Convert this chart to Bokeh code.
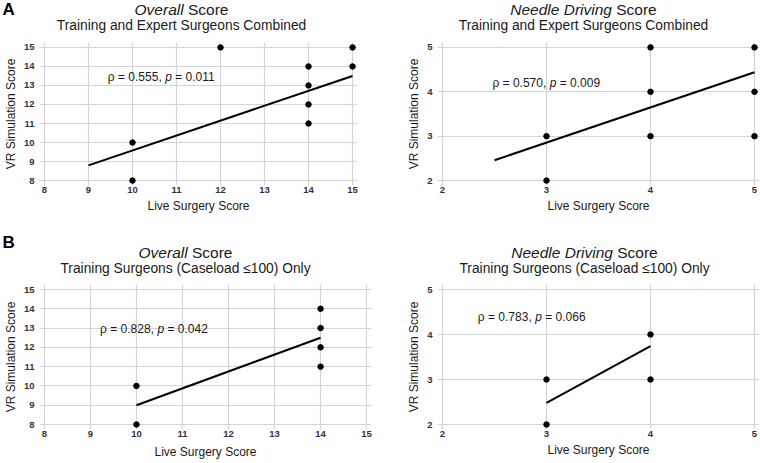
from bokeh.plotting import figure
from bokeh.models import Label, FixedTicker, Range1d
from bokeh.layouts import column, row
from bokeh.core.properties import value
from bokeh.embed import file_html
from bokeh.resources import INLINE

# ---------------- data ----------------
# Panel A – Overall score, training + expert surgeons combined
a_overall_live = [10, 10, 12, 14, 14, 14, 14, 15, 15]
a_overall_vr = [8, 10, 15, 11, 12, 13, 14, 14, 15]
a_overall_fit_x = [9, 15]
a_overall_fit_y = [8.8, 13.5]

# Panel A – Needle driving score, combined
a_needle_live = [3, 3, 4, 4, 4, 5, 5, 5]
a_needle_vr = [2, 3, 3, 4, 5, 3, 4, 5]
a_needle_fit_x = [2.5, 5]
a_needle_fit_y = [2.46, 4.44]

# Panel B – Overall score, training surgeons only
b_overall_live = [10, 10, 14, 14, 14, 14]
b_overall_vr = [8, 10, 11, 12, 13, 14]
b_overall_fit_x = [10, 14]
b_overall_fit_y = [9.0, 12.5]

# Panel B – Needle driving score, training surgeons only
b_needle_live = [3, 3, 4, 4]
b_needle_vr = [2, 3, 3, 4]
b_needle_fit_x = [3, 4]
b_needle_fit_y = [2.48, 3.74]

overall_ticks = [8, 9, 10, 11, 12, 13, 14, 15]
needle_ticks = [2, 3, 4, 5]

stats = {
    "a_overall": ("0.555", "0.011"),
    "a_needle": ("0.570", "0.009"),
    "b_overall": ("0.828", "0.042"),
    "b_needle": ("0.783", "0.066"),
}

title_italic = {"overall": "Overall", "needle": "Needle Driving"}
title_normal = "Score"
sub_a = "Training and Expert Surgeons Combined"
sub_b = "Training Surgeons (Caseload \u2264100) Only"

FONT = "Liberation Sans"
TXT = "#1a1a1a"

# approximate Arial advance widths (per 1000 em) for offsetting mixed-style text
W = {" ": 278, "=": 584, ".": 278, ",": 278, "p": 556, "\u03c1": 578,
     "O": 778, "v": 500, "e": 556, "r": 333, "a": 556, "l": 222, "S": 667,
     "c": 500, "o": 556, "N": 722, "d": 556, "D": 722, "i": 222, "n": 556, "g": 556}


def tw(s, size):
    return sum(W.get(ch, 556) for ch in s) / 1000.0 * size


def title_fig(w, h, origin, kind, sub, title_c, title_y, sub_y, letter=None, letter_y=None):
    ox, oy = origin
    t = figure(width=w, height=h, output_backend="svg", toolbar_location=None,
               x_range=Range1d(0, w), y_range=Range1d(h, 0),
               x_axis_location=None, y_axis_location=None,
               min_border=0, min_border_left=0, min_border_right=0,
               min_border_top=0, min_border_bottom=0)
    t.outline_line_color = None
    t.grid.visible = False
    t.background_fill_color = "white"
    t.border_fill_color = "white"
    ts = 15.5
    wi = tw(title_italic[kind], ts)
    wn = tw(" " + title_normal, ts)
    cx = title_c - ox
    split = cx - (wi + wn) / 2 + wi
    ty = title_y - oy
    t.text(x=[split], y=[ty], text=[title_italic[kind]], text_font=value(FONT),
           text_font_size=f"{ts}px", text_font_style="italic", text_align="right",
           text_baseline="middle", text_color=TXT)
    t.text(x=[split + tw(" ", ts)], y=[ty], text=[title_normal], text_font=value(FONT),
           text_font_size=f"{ts}px", text_align="left",
           text_baseline="middle", text_color=TXT)
    t.text(x=[cx], y=[sub_y - oy], text=[sub], text_font=value(FONT),
           text_font_size="13.8px", text_align="center",
           text_baseline="middle", text_color=TXT)
    if letter:
        t.text(x=[2 - ox], y=[letter_y - oy], text=[letter], text_font=value(FONT),
               text_font_size="17px", text_font_style="bold", text_align="left",
               text_baseline="middle", text_color="black")
    return t


def panel(w, h, origin, box, xt, yt, lx, ly, fx, fy, key, ann_xy, xlab_standoff):
    ox, oy = origin
    L, R, T, B = box  # page coords of the outer gridlines
    pad = 5
    xu = (xt[-1] - xt[0]) / (R - L)
    yu = (yt[-1] - yt[0]) / (B - T)
    p = figure(width=w, height=h, output_backend="svg", toolbar_location=None,
               x_range=Range1d(xt[0] - pad * xu, xt[-1] + pad * xu),
               y_range=Range1d(yt[0] - pad * yu, yt[-1] + pad * yu),
               min_border_left=L - ox - pad, min_border_right=max(0, w - (R - ox + pad)),
               min_border_top=T - oy - pad, min_border_bottom=h - (B - oy + pad))
    p.outline_line_color = None
    p.background_fill_color = "white"
    p.border_fill_color = "white"
    for ax, t in ((p.xaxis, xt), (p.yaxis, yt)):
        ax.ticker = FixedTicker(ticks=t)
        ax.axis_line_color = None
        ax.major_tick_line_color = None
        ax.minor_tick_line_color = None
        ax.major_tick_out = 0
        ax.major_tick_in = 0
        ax.minor_tick_out = 0
        ax.minor_tick_in = 0
        ax.major_label_text_font = FONT
        ax.major_label_text_font_size = "9.5px"
        ax.major_label_text_font_style = "bold"
        ax.major_label_text_color = "#333333"
        ax.axis_label_text_font = FONT
        ax.axis_label_text_font_size = "12px"
        ax.axis_label_text_font_style = "normal"
        ax.axis_label_text_color = TXT
    p.xaxis.axis_label = "Live Surgery Score"
    p.yaxis.axis_label = "VR Simulation Score"
    p.xaxis.major_label_standoff = 1
    p.yaxis.major_label_standoff = 5
    p.xaxis.axis_label_standoff = xlab_standoff
    p.yaxis.axis_label_standoff = 3
    p.grid.grid_line_color = "#d4d4d4"
    p.grid.grid_line_width = 1.2

    p.line(fx, fy, line_color="black", line_width=2)
    p.scatter(lx, ly, size=5.5, color="black")

    # correlation annotation: "ρ = r, p = v" with italic p
    rho, pv = stats[key]
    fs = 12
    pieces = (("\u03c1 = " + rho + ",", "normal", "\u03c1 = " + rho + ", "),
              ("p", "italic", "p "),
              ("= " + pv, "normal", ""))
    ax_, ay_ = ann_xy
    off = 0.0
    for s, style, adv in pieces:
        p.add_layout(Label(x=ax_, y=ay_, x_offset=off, text=s, text_font=FONT,
                           text_font_size=f"{fs}px", text_font_style=style,
                           text_align="left", text_baseline="middle", text_color=TXT))
        off += tw(adv, fs)
    return p


TOP_T = 36     # height of the title strip above row A
BOT_T = 52     # height of the title strip above row B
ROW_A = 226

t1 = title_fig(380, TOP_T, (0, 0), "overall", sub_a, 181, 9, 25, "A", 9)
t2 = title_fig(380, TOP_T, (380, 0), "needle", sub_a, 583, 9, 25)
t3 = title_fig(380, BOT_T, (0, ROW_A), "overall", sub_b, 185, 252, 268, "B", 242)
t4 = title_fig(380, BOT_T, (380, ROW_A), "needle", sub_b, 584, 252, 268)

p1 = panel(380, ROW_A - TOP_T, (0, TOP_T), (43, 352, 47, 182), overall_ticks, overall_ticks,
           a_overall_live, a_overall_vr, a_overall_fit_x, a_overall_fit_y,
           "a_overall", (9.44, 13.43), 3)
p2 = panel(380, ROW_A - TOP_T, (380, TOP_T), (442, 754, 44, 180), needle_ticks, needle_ticks,
           a_needle_live, a_needle_vr, a_needle_fit_x, a_needle_fit_y,
           "a_needle", (2.48, 4.2), 3)
p3 = panel(380, 463 - ROW_A - BOT_T, (0, ROW_A + BOT_T), (39, 366, 289, 424), overall_ticks,
           overall_ticks, b_overall_live, b_overall_vr, b_overall_fit_x, b_overall_fit_y,
           "b_overall", (9.21, 12.95), 5)
p4 = panel(380, 463 - ROW_A - BOT_T, (380, ROW_A + BOT_T), (442, 754, 289, 424), needle_ticks,
           needle_ticks, b_needle_live, b_needle_vr, b_needle_fit_x, b_needle_fit_y,
           "b_needle", (2.34, 4.4), 3)

layout = column(row(t1, t2, spacing=0), row(p1, p2, spacing=0),
                row(t3, t4, spacing=0), row(p3, p4, spacing=0), spacing=0)
open("out.html", "w").write(file_html(layout, INLINE))
